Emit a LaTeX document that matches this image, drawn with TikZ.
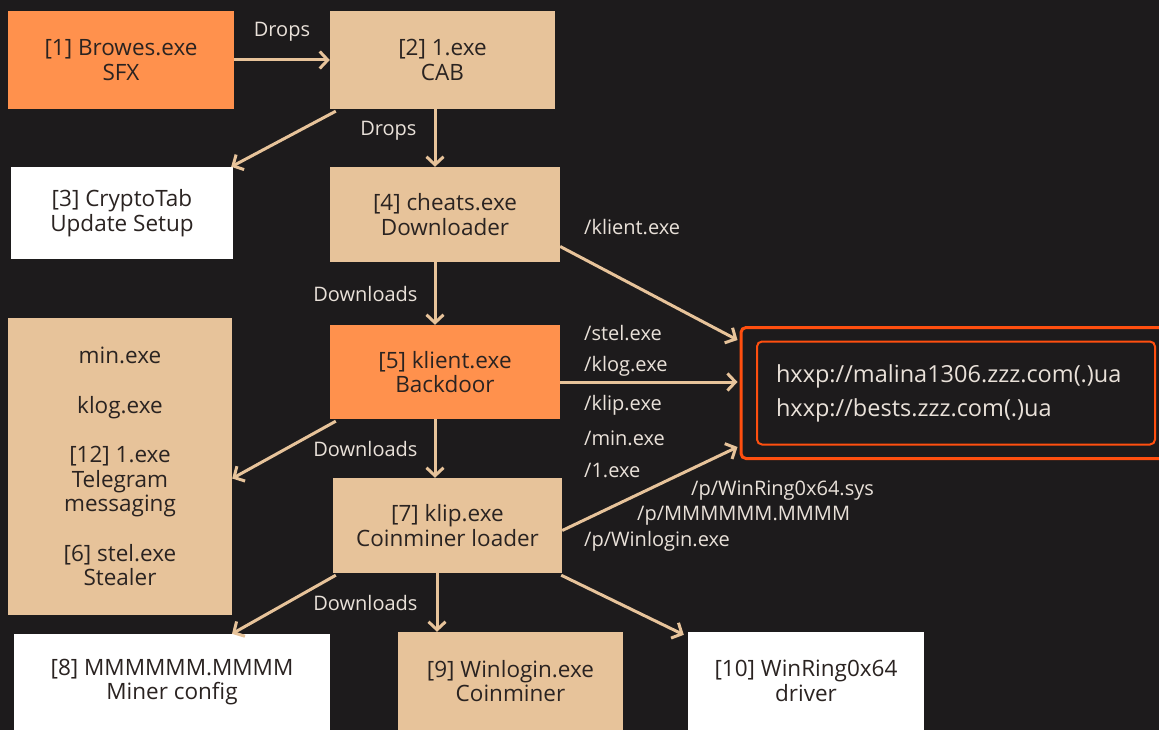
\documentclass[tikz,border=0pt]{standalone}
\usepackage{fontspec}
\setmainfont{Open Sans}
\usepackage{xcolor}
\usetikzlibrary{arrows.meta,positioning,fit,calc}
\definecolor{bgdark}{HTML}{1D1B1C}
\definecolor{boxor}{HTML}{FF914D}
\definecolor{boxtan}{HTML}{E7C39A}
\definecolor{txtdark}{HTML}{2A2321}
\definecolor{txtlight}{HTML}{E9E1D9}
\definecolor{urlred}{HTML}{FF4F0F}
\tikzset{
  blko/.style  = {rectangle, fill=boxor, text=txtdark, align=center,
                  font=\fontsize{22.5}{24.5}\selectfont, inner sep=0pt},
  blkt/.style  = {rectangle, fill=boxtan, text=txtdark, align=center,
                  font=\fontsize{22.5}{24.5}\selectfont, inner sep=0pt},
  blkw/.style  = {rectangle, fill=white, text=txtdark, align=center,
                  font=\fontsize{22.5}{24.5}\selectfont, inner sep=0pt},
  fl/.style    = {-{Straight Barb[length=8pt,width=17pt,line width=3pt]}, line width=3pt, boxtan},
  lbl/.style   = {text=txtlight, font=\fontsize{20}{22}\selectfont, inner sep=0pt, anchor=center},
  urlbox/.style= {rectangle, rounded corners=5pt, draw=urlred, line width=2.5pt},
}
\begin{document}
\begin{tikzpicture}[x=1pt,y=-1pt]
  \fill[bgdark] (0,0) rectangle (1159,730);
  \useasboundingbox (0,0) rectangle (1159,730);
  \node[blko, minimum width=226pt, minimum height=98pt] (sfx) at (121,60) {[1] Browes.exe\\SFX};
  \node[blkt, minimum width=225pt, minimum height=98pt] (cab) at (442.5,60) {[2] 1.exe\\CAB};
  \node[blkw, minimum width=222pt, minimum height=92pt] (ctab) at (122,213) {[3] CryptoTab\\Update Setup};
  \node[blkt, minimum width=230pt, minimum height=95pt] (cheats) at (445,214.5) {[4] cheats.exe\\Downloader};
  \node[blko, minimum width=230pt, minimum height=94pt] (klient) at (445,372) {[5] klient.exe\\Backdoor};
  \node[blkt, minimum width=224pt, minimum height=297pt] (pack) at (120,466.5)
    {min.exe\\[25pt]klog.exe\\[25pt][12] 1.exe\\Telegram\\messaging\\[25pt][6] stel.exe\\Stealer};
  \node[blkt, minimum width=229pt, minimum height=95pt] (klip) at (447.5,525.5) {[7] klip.exe\\Coinminer loader};
  \node[blkw, minimum width=316pt, minimum height=96pt] (conf) at (172,682) {[8] MMMMMM.MMMM\\Miner config};
  \node[blkt, minimum width=225pt, minimum height=98pt] (winlog) at (510.5,681) {[9] Winlogin.exe\\Coinminer};
  \node[blkw, minimum width=236pt, minimum height=98pt] (ring) at (806,681) {[10] WinRing0x64\\driver};
  % C2 servers
  \node[urlbox, line width=2pt, text=txtlight, font=\fontsize{23.5}{34}\selectfont, align=left,
        text width=360pt, inner xsep=19pt, minimum height=103pt] (urls) at (956,393)
    {hxxp://malina1306.zzz.com(.)ua\\hxxp://bests.zzz.com(.)ua};
  \node[urlbox, line width=3pt, fit=(urls), inner xsep=15pt, inner ysep=13pt] (c2) {};
  % drops
  \draw[fl] (sfx) -- node[lbl, above=17pt] {Drops} (cab);
  \draw[fl] ([xshift=6pt,yshift=-2pt]cab.south west) -- ([xshift=-2pt]ctab.north east);
  \draw[fl] (cab.south -| 435,0) -- node[lbl, left=17pt, yshift=7pt] {Drops} (cheats.north -| 435,0);
  % downloads
  \draw[fl] (cheats.south -| 435,0) -- node[lbl, left=16pt] {Downloads} (klient.north -| 435,0);
  \draw[fl] ([yshift=-32pt]cheats.east) -- ([xshift=-2pt,yshift=-14pt]c2.north west);
  \node[lbl, anchor=west] (l0) at (584,227) {/klient.exe};
  \draw[fl] ([yshift=-10pt]klient.east) -- ([xshift=-2pt]c2.west |- 0,382);
  \node[lbl, anchor=west] (l1) at (584,333) {/stel.exe};
  \node[lbl, anchor=west] (l2) at (584,366) {/klog.exe};
  \node[lbl, anchor=west] (l3) at (584,405) {/klip.exe};
  \node[lbl, anchor=west] (l4) at (584,438) {/min.exe};
  \node[lbl, anchor=west] (l5) at (584,470) {/1.exe};
  \draw[fl] ([xshift=6pt,yshift=-2pt]klient.south west) -- ([yshift=-12pt]pack.east);
  \draw[fl] (klient.south -| 435,0) -- node[lbl, left=16pt] {Downloads} (klip.north -| 435,0);
  \draw[fl] ([yshift=-5pt]klip.east) -- ([xshift=-2pt,yshift=13pt]c2.south west);
  \node[lbl, anchor=west] (p1) at (691,491) {/p/WinRing0x64.sys};
  \node[lbl, anchor=west] (p2) at (637,516) {/p/MMMMMM.MMMM};
  \node[lbl, anchor=west] (p3) at (584,541) {/p/Winlogin.exe};
  \draw[fl] ([xshift=3pt,yshift=-2pt]klip.south west) -- ([xshift=60pt]conf.north);
  \draw[fl] (klip.south -| 437,0) -- node[lbl, left=18pt] {Downloads} (winlog.north -| 437,0);
  \draw[fl] ([xshift=-1pt,yshift=-2pt]klip.south east) -- ([xshift=-4pt,yshift=-3pt]ring.north west);
\end{tikzpicture}
\end{document}
